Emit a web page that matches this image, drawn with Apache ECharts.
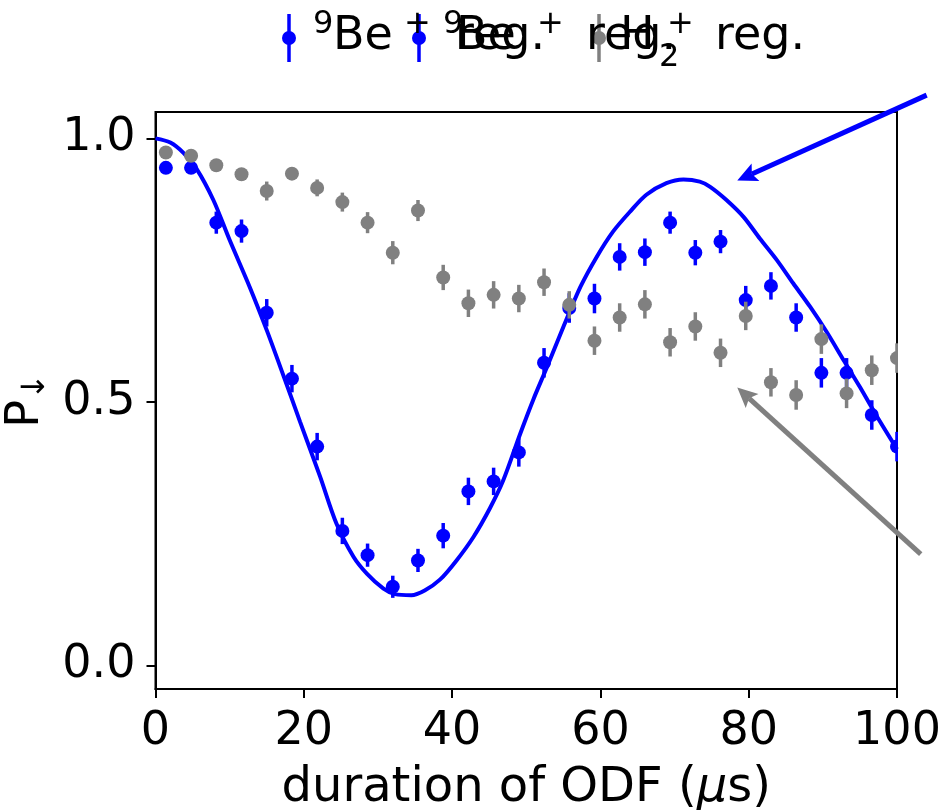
<!DOCTYPE html>
<html><head><meta charset="utf-8">
<script src="https://cdn.jsdelivr.net/npm/echarts@6/dist/echarts.min.js"></script>
<style>html,body{margin:0;padding:0;background:#fff}#c{width:947px;height:810px}</style>
</head><body><div id="c"></div>
<script>
// ---- data ----
const xValues = [1.4, 4.8, 8.2, 11.6, 15.0, 18.4, 21.8, 25.2, 28.6, 32.0, 35.4, 38.8, 42.2, 45.6, 49.0, 52.4, 55.8, 59.2, 62.6, 66.0, 69.4, 72.8, 76.2, 79.6, 83.0, 86.4, 89.8, 93.2, 96.6, 100.0];
const beRegY = [0.944, 0.944, 0.840, 0.824, 0.669, 0.544, 0.415, 0.255, 0.209, 0.149, 0.199, 0.246, 0.330, 0.349, 0.404, 0.574, 0.678, 0.696, 0.775, 0.784, 0.840, 0.783, 0.804, 0.693, 0.720, 0.660, 0.555, 0.555, 0.475, 0.415];
const beRegErr = [0.008, 0.008, 0.021, 0.022, 0.026, 0.026, 0.026, 0.025, 0.022, 0.021, 0.022, 0.024, 0.026, 0.026, 0.027, 0.028, 0.028, 0.028, 0.026, 0.026, 0.021, 0.024, 0.022, 0.027, 0.026, 0.027, 0.028, 0.028, 0.028, 0.028];
const h2RegY = [0.973, 0.967, 0.949, 0.932, 0.900, 0.933, 0.906, 0.879, 0.840, 0.783, 0.863, 0.736, 0.687, 0.703, 0.696, 0.727, 0.684, 0.616, 0.660, 0.685, 0.613, 0.643, 0.593, 0.663, 0.537, 0.513, 0.619, 0.516, 0.560, 0.583];
const h2RegErr = [0.008, 0.008, 0.008, 0.010, 0.018, 0.010, 0.016, 0.018, 0.020, 0.022, 0.020, 0.024, 0.026, 0.026, 0.026, 0.026, 0.026, 0.027, 0.027, 0.027, 0.027, 0.027, 0.027, 0.027, 0.027, 0.028, 0.028, 0.028, 0.028, 0.028];
const fitX = [0, 2, 3.8, 5.5, 7.8, 10, 12.7, 15, 17.3, 19.5, 22.2, 24.4, 26.7, 28.5, 30.7, 32.3, 34.5, 36.3, 38.4, 40.6, 42.9, 45.1, 46.9, 49.2, 51, 52.8, 55, 57.3, 59.5, 61.7, 64, 66.2, 68.9, 71.2, 73.4, 74.8, 77, 79.3, 81.5, 83.8, 86, 88.3, 90.5, 92.8, 95, 97.3, 100];
const fitY = [1.0, 0.992, 0.972, 0.943, 0.883, 0.807, 0.718, 0.636, 0.548, 0.462, 0.358, 0.269, 0.206, 0.174, 0.146, 0.135, 0.133, 0.142, 0.163, 0.199, 0.244, 0.298, 0.351, 0.440, 0.506, 0.566, 0.642, 0.718, 0.775, 0.823, 0.861, 0.893, 0.915, 0.922, 0.918, 0.908, 0.883, 0.851, 0.810, 0.769, 0.725, 0.680, 0.633, 0.579, 0.528, 0.472, 0.410];
const yTicks = [0, 0.5, 1.0];
// annotation arrows (data coordinates: from text point to target point)
const arrowBlue = {from: [104.0, 1.082], to: [78.46, 0.920]};
const arrowGray = {from: [103.2, 0.211], to: [78.46, 0.527]};

const BLUE = '#0000ff', GRAY = '#808080';
const FONT = '"DejaVu Sans", sans-serif';
const chart = echarts.init(document.getElementById('c'), null, {renderer: 'canvas'});

function errSeries(name, ys, errs, color, z) {
  return {
    type: 'custom', name, clip: true, z,
    encode: {x: 0, y: 1},
    data: xValues.map((x, i) => [x, ys[i], errs[i]]),
    renderItem(params, api) {
      const x = api.value(0), y = api.value(1), e = api.value(2);
      const c = api.coord([x, y]), lo = api.coord([x, y - e]), hi = api.coord([x, y + e]);
      return {type: 'group', children: [
        {type: 'line', shape: {x1: c[0], y1: lo[1], x2: c[0], y2: hi[1]}, style: {stroke: color, lineWidth: 3.5}},
        {type: 'circle', shape: {cx: c[0], cy: c[1], r: 7}, style: {fill: color}}
      ]};
    }
  };
}

chart.setOption({
  animation: false,
  backgroundColor: '#fff',
  grid: {left: 155.5, right: 50, top: 112, bottom: 121, containLabel: false, outerBoundsMode: 'none',
         show: true, borderColor: '#000', borderWidth: 2, backgroundColor: 'transparent'},
  xAxis: {
    type: 'value', min: 0, max: 100, interval: 20,
    axisLine: {show: true, onZero: false, lineStyle: {color: '#000', width: 2}},
    axisTick: {show: true, length: 9, lineStyle: {color: '#000', width: 2}},
    axisLabel: {fontSize: 46, color: '#000', fontFamily: FONT, margin: 20},
    splitLine: {show: false},
    name: '{a|duration of ODF (}{m|μ}{a|s)}',
    nameLocation: 'middle', nameGap: 76,
    nameTextStyle: {rich: {
      a: {fontSize: 48, fontFamily: FONT, color: '#000'},
      m: {fontSize: 48, fontFamily: FONT, fontStyle: 'italic', color: '#000'}
    }}
  },
  yAxis: {
    type: 'value', min: -0.045, max: 1.05,
    axisLine: {show: true, onZero: false, lineStyle: {color: '#000', width: 2}},
    axisTick: {show: true, length: 9, customValues: yTicks, lineStyle: {color: '#000', width: 2}},
    axisLabel: {fontSize: 46, color: '#000', fontFamily: FONT, margin: 20, customValues: yTicks,
                formatter: v => v.toFixed(1)},
    splitLine: {show: false},
    name: '{p|P}{s|↓}',
    nameLocation: 'middle', nameGap: 103, nameRotate: 90,
    nameTextStyle: {rich: {
      p: {fontSize: 46, fontFamily: FONT, color: '#000'},
      s: {fontSize: 32, fontFamily: FONT, color: '#000', padding: [18, 0, 0, 0]}
    }}
  },
  series: [
    {type: 'line', name: 'fit', z: 2, data: fitX.map((x, i) => [x, fitY[i]]), showSymbol: false,
     smooth: 0.3, clip: true, lineStyle: {color: BLUE, width: 4}},
    errSeries('9Be+ reg.', beRegY, beRegErr, BLUE, 3),
    errSeries('H2+ reg.', h2RegY, h2RegErr, GRAY, 4)
  ]
});

function arrowEls(a, color) {
  const t = chart.convertToPixel({gridIndex: 0}, a.from);
  const h = chart.convertToPixel({gridIndex: 0}, a.to);
  const dx = h[0] - t[0], dy = h[1] - t[1], len = Math.hypot(dx, dy);
  const ux = dx / len, uy = dy / len, nx = -uy, ny = ux;
  const L = 20, hw = 9.5;
  const bx = h[0] - ux * L, by = h[1] - uy * L;
  return [
    {type: 'line', z: 10, shape: {x1: t[0], y1: t[1], x2: bx + ux * 4, y2: by + uy * 4}, style: {stroke: color, lineWidth: 5}},
    {type: 'polygon', z: 10, shape: {points: [[h[0], h[1]], [bx + nx * hw, by + ny * hw], [bx + ux * 4, by + uy * 4], [bx - nx * hw, by - ny * hw]]}, style: {fill: color}}
  ];
}

function txt(t, x, y, s) {
  return {type: 'text', z: 20, style: {text: t, x, y, fontSize: s, fontFamily: FONT, fill: '#000',
          align: 'left', verticalAlign: 'middle', textAlign: 'left', textVerticalAlign: 'middle'}};
}
function mk(x, color) {
  return [
    {type: 'line', z: 19, shape: {x1: x, y1: 14, x2: x, y2: 62}, style: {stroke: color, lineWidth: 3.5}},
    {type: 'circle', z: 19, shape: {cx: x, cy: 38, r: 7}, style: {fill: color}}
  ];
}

const legendEls = [].concat(
  mk(289, BLUE), mk(419, BLUE), mk(599, GRAY),
  [
    txt('9', 313, 24.5, 32), txt('Be', 333, 37.5, 46), txt('+', 404, 24.5, 32),
    txt('9', 443, 24.5, 32), txt('reg.', 455, 37.5, 46), txt('Be', 456, 37.5, 46), txt('+', 537, 24.5, 32),
    txt('reg.', 586, 37.5, 46), txt('H', 620, 37.5, 46), txt('2', 659, 58, 32), txt('+', 667, 24.5, 32),
    txt('reg.', 715, 37.5, 46)
  ]
);

chart.setOption({graphic: legendEls.concat(arrowEls(arrowBlue, BLUE), arrowEls(arrowGray, GRAY))});
</script></body></html>
